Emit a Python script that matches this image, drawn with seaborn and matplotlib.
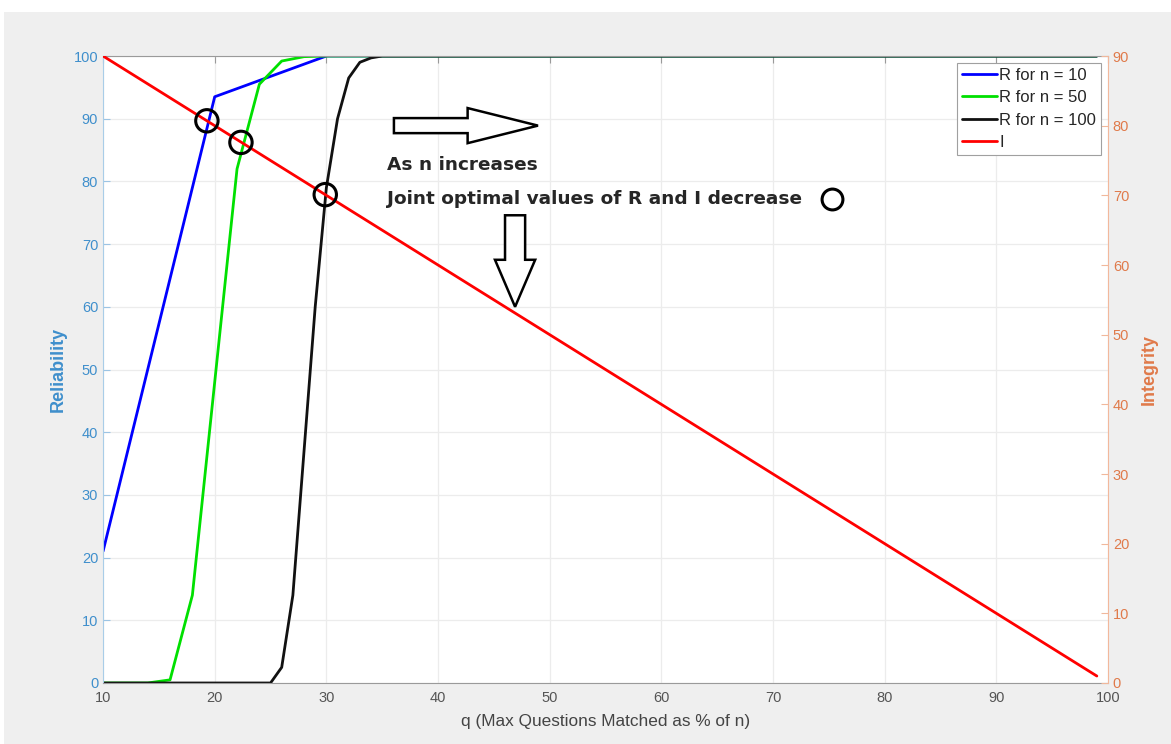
import matplotlib
matplotlib.use("Agg")
import matplotlib.pyplot as plt
import matplotlib.patches as mpatches
import seaborn as sns

# R for n = 10 (q sampled every 10 %)
q_n10 = [10, 20, 30, 99]
r_n10 = [21, 93.5, 100, 100]
# R for n = 50
q_n50 = [10, 14, 16, 18, 20, 22, 24, 26, 28, 30, 99]
r_n50 = [0, 0, 0.5, 14, 48, 82, 95.5, 99.2, 99.9, 100, 100]
# R for n = 100
q_n100 = [10, 25, 26, 27, 28, 29, 30, 31, 32, 33, 34, 35, 99]
r_n100 = [0, 0, 2.5, 14, 37, 60, 79, 90, 96.5, 99, 99.7, 100, 100]
# Integrity (right axis)
q_int = [10, 99]
i_int = [90, 1]
# joint optimal points, on the integrity axis
q_opt = [19.3, 22.35, 29.9]
i_opt = [80.7, 77.6, 70.1]

sns.set_style("white")
plt.rcParams['font.family'] = ['Liberation Sans', 'DejaVu Sans']

fig = plt.figure(figsize=(11.71, 7.44), dpi=100)
fig.patch.set_facecolor('white')
fig.patches.append(mpatches.Rectangle((0.003, 0), 0.997, 1 - 12 / 744, transform=fig.transFigure,
                                      facecolor='#efefef', edgecolor='none', zorder=-10))

ax1 = fig.add_axes([0.088, 0.082, 0.8582, 0.8427])
ax1.set_facecolor('white')
ax2 = ax1.twinx()

sns.lineplot(x=q_n10, y=r_n10, ax=ax1, color='#0000ff', lw=2, label='R for n = 10', sort=False, estimator=None)
sns.lineplot(x=q_n50, y=r_n50, ax=ax1, color='#00e000', lw=2, label='R for n = 50', sort=False, estimator=None)
sns.lineplot(x=q_n100, y=r_n100, ax=ax1, color='#111111', lw=2, label='R for n = 100', sort=False, estimator=None)
sns.lineplot(x=q_int, y=i_int, ax=ax2, color='#ff0000', lw=2, label='I', sort=False, estimator=None)
sns.scatterplot(x=q_opt, y=i_opt, ax=ax2, s=260, facecolor='none', edgecolor='black', linewidth=2.2, zorder=5)

for a in (ax1, ax2):
    if a.get_legend() is not None:
        a.get_legend().remove()

ax1.set_xlim(10, 100)
ax1.set_ylim(0, 100)
ax2.set_ylim(0, 90)
ax1.set_xticks(range(10, 101, 10))
ax1.set_yticks(range(0, 101, 10))
ax2.set_yticks(range(0, 91, 10))

ax1.grid(True, color='#ececec', lw=0.9)
ax1.tick_params(axis='x', direction='in', length=5, top=True, color='#9a9a9a', labelcolor='#555555',
                labelsize=10.5, pad=5.5)
ax1.tick_params(axis='y', direction='in', length=5, color='#9cc4e4', labelcolor='#3f8fcc', labelsize=10.5)
ax2.tick_params(axis='y', direction='in', length=5, color='#f0b89c', labelcolor='#e07a4a', labelsize=10.5)

ax1.spines['left'].set_color('#a9cde8')
ax1.spines['bottom'].set_color('#9a9a9a')
ax1.spines['top'].set_color('#9a9a9a')
ax1.spines['right'].set_visible(False)
for s in ('left', 'top', 'bottom'):
    ax2.spines[s].set_visible(False)
ax2.spines['right'].set_color('#f2b89c')

ax1.set_xlabel('q (Max Questions Matched as % of n)', fontsize=12.4, color='#444444', labelpad=7)
ax1.set_ylabel('Reliability', fontsize=13, fontweight='bold', color='#3f8fcc', labelpad=5)
ax2.set_ylabel('Integrity', fontsize=13, fontweight='bold', color='#e07a4a', rotation=90, labelpad=8)

# hollow arrows and notes
ax1.add_patch(mpatches.FancyArrow(36.05, 88.9, 12.9, 0, width=2.4, head_width=5.6, head_length=6.3,
                                  length_includes_head=True, facecolor='white', edgecolor='black', lw=1.8, zorder=6))
ax1.add_patch(mpatches.FancyArrow(46.9, 74.6, 0, -14.6, width=1.8, head_width=3.6, head_length=7.5,
                                  length_includes_head=True, facecolor='white', edgecolor='black', lw=1.8, zorder=6))
ax1.text(35.4, 82.6, 'As n increases', fontsize=13.3, fontweight='bold', family='DejaVu Sans',
         va='center', ha='left', zorder=6)
ax1.text(35.4, 77.2, 'Joint optimal values of R and I decrease', fontsize=13.3, fontweight='bold',
         family='DejaVu Sans', va='center', ha='left', zorder=6)
ax1.plot([75.3], [77.2], marker='o', ms=15, mfc='none', mec='black', mew=2.2, zorder=6)

h1, l1 = ax1.get_legend_handles_labels()
h2, l2 = ax2.get_legend_handles_labels()
leg = ax2.legend(h1 + h2, l1 + l2, loc='upper right', fontsize=12, frameon=True, fancybox=False,
                 edgecolor='#a0a0a0', framealpha=1, handlelength=2.1, handletextpad=0.15,
                 labelspacing=0.45, borderpad=0.3, borderaxespad=0.4)
leg.get_frame().set_linewidth(0.8)

fig.savefig('out.png', dpi=100)
